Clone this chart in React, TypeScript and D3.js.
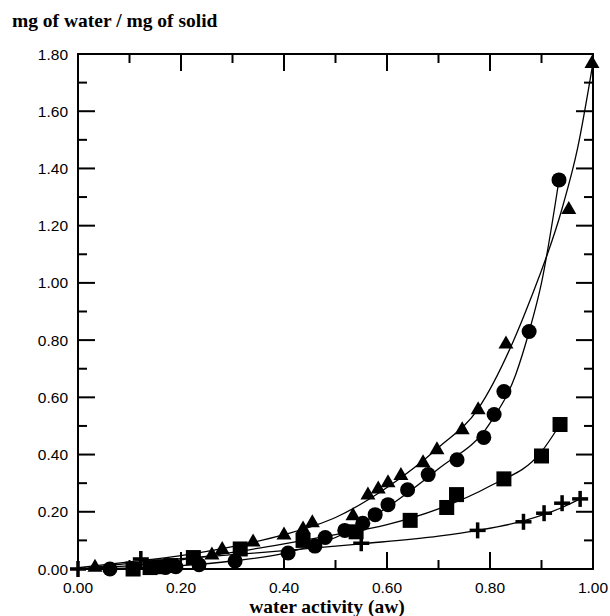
import React from "react";
import * as d3 from "d3";

const triX = [0.033, 0.26, 0.28, 0.34, 0.40, 0.437, 0.455, 0.534, 0.563, 0.583, 0.602, 0.627, 0.67, 0.697, 0.746, 0.777, 0.831, 0.953, 0.998];
const triY = [0.01, 0.052, 0.072, 0.098, 0.122, 0.143, 0.165, 0.19, 0.262, 0.283, 0.305, 0.33, 0.375, 0.42, 0.49, 0.56, 0.79, 1.26, 1.77];

const cirX = [0.062, 0.17, 0.19, 0.235, 0.305, 0.408, 0.46, 0.48, 0.518, 0.553, 0.577, 0.602, 0.64, 0.68, 0.736, 0.788, 0.808, 0.827, 0.876, 0.934];
const cirY = [0.0, 0.005, 0.008, 0.015, 0.028, 0.056, 0.08, 0.11, 0.135, 0.16, 0.19, 0.225, 0.277, 0.33, 0.382, 0.46, 0.54, 0.62, 0.83, 1.36];

const sqX = [0.107, 0.14, 0.16, 0.18, 0.224, 0.315, 0.437, 0.54, 0.645, 0.716, 0.735, 0.827, 0.9, 0.936];
const sqY = [0.0, 0.005, 0.008, 0.012, 0.04, 0.07, 0.10, 0.13, 0.17, 0.215, 0.26, 0.315, 0.395, 0.505];

const plusX = [0.0, 0.122, 0.55, 0.776, 0.865, 0.905, 0.94, 0.975];
const plusY = [0.0, 0.035, 0.09, 0.135, 0.165, 0.195, 0.23, 0.245];

// Fitted curves
const triFitX = [0, 0.1, 0.2, 0.3, 0.4, 0.5, 0.6, 0.7, 0.777, 0.845, 0.878, 0.94, 0.97, 1.0];
const triFitY = [0.005, 0.025, 0.047, 0.078, 0.12, 0.18, 0.285, 0.425, 0.56, 0.795, 0.94, 1.26, 1.47, 1.77];

const cirFitX = [0, 0.1, 0.2, 0.3, 0.4, 0.5, 0.6, 0.7, 0.8, 0.85, 0.876, 0.9, 0.934];
const cirFitY = [0, 0.004, 0.012, 0.028, 0.055, 0.11, 0.215, 0.35, 0.51, 0.68, 0.83, 1.0, 1.36];

const sqFitX = [0, 0.1, 0.2, 0.3, 0.4, 0.5, 0.6, 0.7, 0.8, 0.9, 0.936];
const sqFitY = [0, 0.012, 0.032, 0.058, 0.088, 0.12, 0.155, 0.21, 0.29, 0.41, 0.505];

const plusFitX = [0, 0.1, 0.2, 0.3, 0.4, 0.55, 0.7, 0.776, 0.865, 0.94, 0.975];
const plusFitY = [0, 0.02, 0.036, 0.05, 0.064, 0.088, 0.115, 0.135, 0.168, 0.215, 0.245];

const xTicks = [0, 0.2, 0.4, 0.6, 0.8, 1.0];
const yTicks = [0, 0.2, 0.4, 0.6, 0.8, 1.0, 1.2, 1.4, 1.6, 1.8];

const W = 610;
const H = 616;
const L = 78, R = 593, T = 54, B = 569;

export default function App() {
  const x = d3.scaleLinear().domain([0, 1]).range([L, R]);
  const y = d3.scaleLinear().domain([0, 1.8]).range([B, T]);
  const line = d3
    .line<[number, number]>()
    .x((d) => x(d[0]))
    .y((d) => y(d[1]))
    .curve(d3.curveMonotoneX);
  const zip = (a: number[], b: number[]) => a.map((v, i) => [v, b[i]] as [number, number]);

  const xMinor = d3.range(0, 1.0001, 0.1);
  const yMinor = d3.range(0, 1.8001, 0.1);
  const isMajor = (v: number, step: number) => Math.abs(v / step - Math.round(v / step)) < 1e-6;

  const sans = "'Liberation Sans', Arial, sans-serif";
  const serif = "'Liberation Serif', 'Times New Roman', serif";

  return (
    <svg width={W} height={H} style={{ position: "absolute", left: 0, top: 0, background: "#fff" }}>
      <rect x={0} y={0} width={W} height={H} fill="#fff" />
      <text x={12} y={27} fontFamily={serif} fontWeight="bold" fontSize={19.5}>
        mg of water / mg of solid
      </text>

      {/* fitted curves */}
      {[
        zip(triFitX, triFitY),
        zip(cirFitX, cirFitY),
        zip(sqFitX, sqFitY),
        zip(plusFitX, plusFitY),
      ].map((pts, i) => (
        <path key={i} d={line(pts) || ""} fill="none" stroke="#000" strokeWidth={1.3} />
      ))}

      {/* ticks */}
      {xMinor.map((v, i) => {
        const len = isMajor(v, 0.2) ? 17 : 9;
        return (
          <g key={"xt" + i}>
            <line x1={x(v)} x2={x(v)} y1={B} y2={B - len} stroke="#000" strokeWidth={2} />
            <line x1={x(v)} x2={x(v)} y1={T} y2={T + len} stroke="#000" strokeWidth={2} />
          </g>
        );
      })}
      {yMinor.map((v, i) => {
        const len = isMajor(v, 0.2) ? 17 : 9;
        return (
          <g key={"yt" + i}>
            <line x1={L} x2={L + len} y1={y(v)} y2={y(v)} stroke="#000" strokeWidth={2} />
            <line x1={R} x2={R - len} y1={y(v)} y2={y(v)} stroke="#000" strokeWidth={2} />
          </g>
        );
      })}
      <rect x={L} y={T} width={R - L} height={B - T} fill="none" stroke="#000" strokeWidth={2} />

      {/* tick labels */}
      {xTicks.map((v, i) => (
        <text key={"xl" + i} x={x(v)} y={593} textAnchor="middle" fontFamily={sans} fontSize={15.5}>
          {v.toFixed(2)}
        </text>
      ))}
      {yTicks.map((v, i) => (
        <text key={"yl" + i} x={68} y={y(v) + 5.5} textAnchor="end" fontFamily={sans} fontSize={15.5}>
          {v.toFixed(2)}
        </text>
      ))}
      <text x={327} y={613} textAnchor="middle" fontFamily={serif} fontWeight="bold" fontSize={19.5}>
        water activity (aw)
      </text>

      {/* markers */}
      {triX.map((v, i) => {
        const cx = x(v), cy = y(triY[i]);
        return (
          <path key={"tr" + i} d={`M${cx},${cy - 7.5}L${cx + 7.5},${cy + 5.5}L${cx - 7.5},${cy + 5.5}Z`} fill="#000" />
        );
      })}
      {cirX.map((v, i) => (
        <circle key={"ci" + i} cx={x(v)} cy={y(cirY[i])} r={7.5} fill="#000" />
      ))}
      {sqX.map((v, i) => (
        <rect key={"sq" + i} x={x(v) - 7.5} y={y(sqY[i]) - 7.5} width={15} height={15} fill="#000" />
      ))}
      {plusX.map((v, i) => {
        const cx = x(v), cy = y(plusY[i]);
        return (
          <g key={"pl" + i}>
            <rect x={cx - 8} y={cy - 1.75} width={16} height={3.5} fill="#000" />
            <rect x={cx - 1.75} y={cy - 8} width={3.5} height={16} fill="#000" />
          </g>
        );
      })}
    </svg>
  );
}
